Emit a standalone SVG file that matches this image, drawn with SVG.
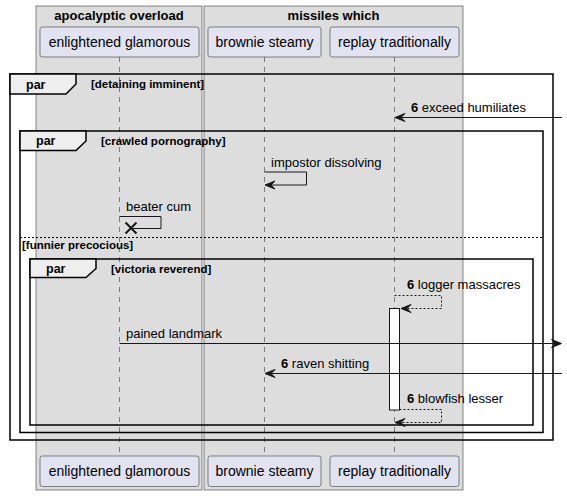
<svg xmlns="http://www.w3.org/2000/svg" width="567" height="496" viewBox="0 0 567 496">
<style>
.box{fill:#DDDDDD;stroke:#181818;stroke-width:0.5}
.btitle{font-family:"Liberation Sans",Arial,sans-serif;font-size:13px;font-weight:bold;fill:#000;text-anchor:middle}
.part{fill:#E2E2F0;stroke:#181818;stroke-width:0.5}
.ptext{font-family:"Liberation Sans",Arial,sans-serif;font-size:14px;fill:#000;text-anchor:middle}
.life{stroke:#181818;stroke-width:0.5;stroke-dasharray:5,5;fill:none}
.frame{fill:none;stroke:#000;stroke-width:1.5}
.tab{fill:#EEEEEE;stroke:#000;stroke-width:1.5}
.ftext{font-family:"Liberation Sans",Arial,sans-serif;font-size:12.5px;font-weight:bold;fill:#000}
.glabel{font-family:"Liberation Sans",Arial,sans-serif;font-size:11.5px;font-weight:bold;fill:#000}
.msg{stroke:#181818;stroke-width:1;fill:none}
.dmsg{stroke:#181818;stroke-width:1;fill:none;stroke-dasharray:2,2}
.head{fill:#181818;stroke:#181818;stroke-width:1}
.mtext{font-family:"Liberation Sans",Arial,sans-serif;font-size:13px;fill:#000}
.b{font-weight:bold}
.act{fill:#FFFFFF;stroke:#181818;stroke-width:1}
</style>
<g id="box-apocalyptic">
<rect class="box" x="36" y="6" width="166" height="484"/>
<text class="btitle" x="119" y="19.5">apocalyptic overload</text>
</g>
<g id="box-missiles">
<rect class="box" x="204" y="6" width="259" height="484"/>
<text class="btitle" x="333.5" y="19.5">missiles which</text>
</g>
<g id="lifelines">
<line class="life" x1="119.5" y1="57" x2="119.5" y2="456"/>
<line class="life" x1="264.5" y1="57" x2="264.5" y2="456"/>
<line class="life" x1="394.5" y1="57" x2="394.5" y2="456"/>
</g>
<g id="enlightened-glamorous">
<rect class="part" x="40" y="27" width="159" height="30" rx="2.5"/>
<text class="ptext" x="119.5" y="47">enlightened glamorous</text>
<rect class="part" x="40" y="456" width="159" height="30.5" rx="2.5"/>
<text class="ptext" x="119.5" y="476">enlightened glamorous</text>
</g>
<g id="brownie-steamy">
<rect class="part" x="208" y="27" width="113" height="30" rx="2.5"/>
<text class="ptext" x="264.5" y="47">brownie steamy</text>
<rect class="part" x="208" y="456" width="113" height="30.5" rx="2.5"/>
<text class="ptext" x="264.5" y="476">brownie steamy</text>
</g>
<g id="replay-traditionally">
<rect class="part" x="330" y="27" width="129" height="30" rx="2.5"/>
<text class="ptext" x="394.5" y="47">replay traditionally</text>
<rect class="part" x="330" y="456" width="129" height="30.5" rx="2.5"/>
<text class="ptext" x="394.5" y="476">replay traditionally</text>
</g>
<g id="frame-detaining">
<rect class="frame" x="10" y="74" width="543" height="366"/>
<path class="tab" d="M10,74 L76,74 L76,84 L66,94 L10,94 Z"/>
<text class="ftext" x="26" y="88.5">par</text>
<text class="glabel" x="91" y="88">[detaining imminent]</text>
</g>
<g id="frame-crawled">
<rect class="frame" x="20" y="131" width="523" height="301.5"/>
<path class="tab" d="M20,131 L86,131 L86,141 L76,150.5 L20,150.5 Z"/>
<text class="ftext" x="36" y="145">par</text>
<text class="glabel" x="101" y="144.5">[crawled pornography]</text>
<line x1="20" y1="237.5" x2="543" y2="237.5" stroke="#000" stroke-width="1" stroke-dasharray="2,2"/>
<text class="glabel" x="22" y="249">[funnier precocious]</text>
</g>
<g id="frame-victoria">
<rect class="frame" x="30" y="259" width="503" height="166"/>
<path class="tab" d="M30,259 L96,259 L96,268.5 L86,277.5 L30,277.5 Z"/>
<text class="ftext" x="46" y="273">par</text>
<text class="glabel" x="111" y="272.5">[victoria reverend]</text>
</g>
<g id="activation">
<rect class="act" x="389.5" y="308.5" width="10" height="101.5"/>
</g>
<g id="connectors">
<line class="msg" x1="562" y1="117.5" x2="396" y2="117.5"/>
<polygon class="head" points="395,117.5 405,113.5 401,117.5 405,121.5"/>
<text class="mtext" x="411" y="112"><tspan class="b">6</tspan> exceed humiliates</text>

<polyline class="msg" points="264.5,172 306.5,172 306.5,185 266,185"/>
<polygon class="head" points="265,185 275,181 271,185 275,189"/>
<text class="mtext" x="271" y="167">impostor dissolving</text>

<polyline class="msg" points="119.5,216.5 161,216.5 161,228.5 131,228.5"/>
<path d="M125.5,222.5 L136.5,233.5 M136.5,222.5 L125.5,233.5" stroke="#181818" stroke-width="2" fill="none"/>
<text class="mtext" x="126" y="211">beater cum</text>

<polyline class="dmsg" points="394.5,295.5 441.5,295.5 441.5,308.5 402,308.5"/>
<polygon class="head" points="401,308.5 411,304.5 407,308.5 411,312.5"/>
<text class="mtext" x="407" y="289"><tspan class="b">6</tspan> logger massacres</text>

<line class="msg" x1="119.5" y1="343.5" x2="560" y2="343.5"/>
<polygon class="head" points="561.5,343.5 551.5,339.5 555.5,343.5 551.5,347.5"/>
<text class="mtext" x="126" y="338">pained landmark</text>

<line class="msg" x1="562" y1="373.5" x2="266" y2="373.5"/>
<polygon class="head" points="265,373.5 275,369.5 271,373.5 275,377.5"/>
<text class="mtext" x="281" y="368"><tspan class="b">6</tspan> raven shitting</text>

<polyline class="dmsg" points="399.5,409.5 441.5,409.5 441.5,422.5 396,422.5"/>
<polygon class="head" points="395,422.5 405,418.5 401,422.5 405,426.5"/>
<text class="mtext" x="407" y="403"><tspan class="b">6</tspan> blowfish lesser</text>
</g>
</svg>
